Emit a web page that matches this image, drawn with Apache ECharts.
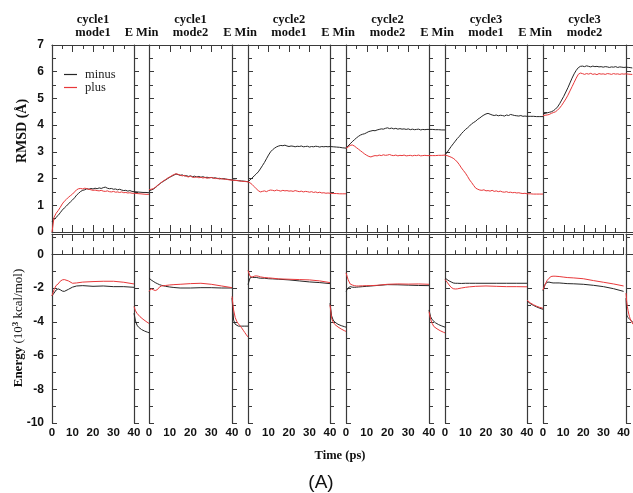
<!DOCTYPE html>
<html>
<head>
<meta charset="utf-8">
<script src="https://cdn.jsdelivr.net/npm/echarts@6/dist/echarts.min.js"></script>
<style>
  html, body { margin: 0; padding: 0; background: #fff; }
  #chart { width: 633px; height: 493px; }
</style>
</head>
<body>
<div id="chart"></div>
<script>
// ---- data ----
// MD time (ps) for the RMSD traces, and a coarser one for the energy traces
const mdTime = [0,1,2,3,4,5,6,7,8,9,10,11,12,13,14,15,16,17,18,19,20,21,22,23,24,25,26,27,28,29,30,31,32,33,34,35,36,37,38,39,40];
const eTime = [0,1,2,3,4,5,6,8,10,12,15,20,25,30,35,40];
// energy minimisation steps (no unit on the figure)
const emStep = [0,1,2,3,4,5,6,7,8,9,10];

const segTitles = ['cycle1\nmode1', 'cycle1\nmode2', 'cycle2\nmode1', 'cycle2\nmode2', 'cycle3\nmode1', 'cycle3\nmode2'];
const emTitle = 'E Min';
const timeTicks = [0, 10, 20, 30, 40];
const rmsdTicks = [0, 1, 2, 3, 4, 5, 6, 7];
const energyTicks = [-10, -8, -6, -4, -2, 0];

// RMSD (Å), one list per MD segment
const rmsdMinusMd = [
  [0.38,0.47,0.55,0.62,0.72,0.82,0.90,0.97,1.05,1.13,1.20,1.28,1.38,1.45,1.52,1.56,1.58,1.62,1.60,1.63,1.61,1.64,1.62,1.65,1.63,1.66,1.68,1.64,1.62,1.63,1.60,1.61,1.58,1.60,1.57,1.55,1.56,1.53,1.55,1.52,1.51],
  [1.54,1.57,1.60,1.66,1.72,1.80,1.85,1.90,1.95,2.00,2.05,2.09,2.13,2.17,2.15,2.12,2.14,2.10,2.11,2.08,2.10,2.07,2.09,2.06,2.08,2.05,2.07,2.04,2.05,2.03,2.04,2.02,2.03,2.00,2.01,1.99,2.00,1.98,1.97,1.96,1.95],
  [1.88,1.95,2.02,2.10,2.17,2.25,2.36,2.48,2.60,2.74,2.88,3.00,3.08,3.14,3.19,3.22,3.24,3.23,3.25,3.22,3.20,3.22,3.21,3.19,3.21,3.20,3.22,3.19,3.20,3.21,3.18,3.20,3.19,3.21,3.20,3.18,3.20,3.19,3.20,3.19,3.20],
  [3.14,3.22,3.30,3.38,3.45,3.52,3.58,3.63,3.66,3.68,3.72,3.76,3.78,3.80,3.79,3.82,3.84,3.86,3.85,3.88,3.90,3.87,3.89,3.86,3.88,3.85,3.87,3.85,3.86,3.84,3.86,3.83,3.85,3.83,3.84,3.85,3.82,3.84,3.83,3.84,3.84],
  [2.88,2.98,3.09,3.20,3.30,3.40,3.50,3.58,3.68,3.76,3.84,3.90,3.97,4.05,4.10,4.15,4.22,4.27,4.33,4.38,4.42,4.44,4.41,4.38,4.36,4.38,4.35,4.37,4.36,4.34,4.38,4.36,4.40,4.38,4.36,4.35,4.34,4.36,4.33,4.34,4.33],
  [4.42,4.44,4.46,4.48,4.50,4.54,4.60,4.68,4.80,4.94,5.08,5.24,5.40,5.58,5.76,5.92,6.05,6.15,6.20,6.21,6.19,6.22,6.20,6.18,6.21,6.19,6.20,6.18,6.19,6.17,6.19,6.18,6.16,6.18,6.17,6.19,6.16,6.18,6.17,6.16,6.17]
];
const rmsdPlusMd = [
  [0.00,0.55,0.70,0.80,0.92,1.05,1.15,1.22,1.30,1.36,1.42,1.50,1.58,1.62,1.63,1.61,1.64,1.62,1.60,1.58,1.56,1.57,1.55,1.54,1.56,1.53,1.52,1.54,1.51,1.50,1.52,1.49,1.50,1.48,1.50,1.47,1.48,1.46,1.47,1.45,1.45],
  [1.58,1.60,1.62,1.67,1.74,1.79,1.86,1.92,1.96,2.02,2.06,2.11,2.15,2.18,2.16,2.13,2.10,2.12,2.08,2.06,2.09,2.05,2.04,2.07,2.03,2.05,2.02,2.04,2.01,2.03,2.04,2.02,2.00,2.01,1.98,2.00,1.97,1.98,1.96,1.95,1.94],
  [1.88,1.84,1.78,1.70,1.62,1.55,1.50,1.52,1.54,1.51,1.55,1.57,1.56,1.54,1.57,1.55,1.53,1.56,1.54,1.55,1.53,1.54,1.52,1.55,1.53,1.51,1.53,1.50,1.52,1.51,1.49,1.51,1.48,1.50,1.47,1.49,1.46,1.47,1.45,1.46,1.45],
  [3.14,3.18,3.24,3.26,3.22,3.16,3.10,3.04,2.98,2.92,2.87,2.83,2.81,2.84,2.86,2.85,2.88,2.86,2.89,2.87,2.88,2.90,2.87,2.86,2.88,2.85,2.87,2.86,2.88,2.85,2.86,2.87,2.85,2.87,2.86,2.88,2.85,2.86,2.87,2.86,2.86],
  [2.88,2.86,2.83,2.80,2.76,2.70,2.62,2.52,2.40,2.30,2.20,2.08,1.95,1.85,1.74,1.64,1.60,1.57,1.56,1.58,1.54,1.55,1.53,1.56,1.52,1.54,1.51,1.53,1.50,1.49,1.51,1.48,1.49,1.47,1.48,1.46,1.47,1.45,1.44,1.45,1.43],
  [4.36,4.37,4.38,4.40,4.44,4.47,4.50,4.56,4.64,4.74,4.86,4.98,5.12,5.28,5.44,5.60,5.76,5.90,5.95,5.93,5.90,5.93,5.91,5.94,5.90,5.92,5.89,5.93,5.91,5.92,5.90,5.93,5.92,5.90,5.93,5.91,5.92,5.90,5.92,5.91,5.92]
];
// RMSD during each E Min stage (the last one runs off the picture)
const rmsdMinusEm = [
  [1.51,1.51,1.50,1.50,1.49,1.49,1.48,1.48,1.48,1.47,1.47],
  [1.95,1.94,1.94,1.93,1.92,1.92,1.91,1.90,1.90,1.89,1.88],
  [3.20,3.20,3.19,3.19,3.18,3.17,3.17,3.16,3.15,3.15,3.14],
  [3.84,3.84,3.84,3.83,3.83,3.83,3.83,3.82,3.82,3.82,3.82],
  [4.33,4.33,4.33,4.33,4.33,4.32,4.32,4.32,4.32,4.32,4.32],
  [6.17,6.17,6.16,6.16,6.16,6.15,6.15,6.15,6.15,6.14,6.14]
];
const rmsdPlusEm = [
  [1.45,1.44,1.44,1.43,1.43,1.42,1.42,1.42,1.41,1.41,1.41],
  [1.94,1.94,1.93,1.92,1.92,1.91,1.90,1.90,1.89,1.89,1.88],
  [1.45,1.45,1.44,1.44,1.44,1.44,1.43,1.43,1.43,1.43,1.43],
  [2.86,2.86,2.86,2.86,2.86,2.87,2.87,2.87,2.87,2.88,2.88],
  [1.43,1.43,1.43,1.43,1.42,1.42,1.42,1.42,1.42,1.42,1.42],
  [5.92,5.92,5.92,5.91,5.91,5.91,5.91,5.90,5.90,5.90,5.90]
];

// Energy (10^3 kcal/mol), one list per MD segment, sampled at eTime
const energyMinusMd = [
  [-2.46,-2.30,-2.12,-2.05,-2.10,-2.18,-2.20,-2.08,-1.95,-1.88,-1.86,-1.90,-1.88,-1.92,-1.92,-1.96],
  [-1.40,-1.52,-1.60,-1.68,-1.74,-1.80,-1.84,-1.90,-1.94,-1.97,-2.00,-2.00,-1.98,-1.98,-2.00,-2.00],
  [-1.80,-1.40,-1.36,-1.38,-1.37,-1.40,-1.42,-1.42,-1.45,-1.46,-1.48,-1.52,-1.58,-1.64,-1.68,-1.74],
  [-2.20,-2.00,-1.92,-1.95,-1.96,-1.95,-1.94,-1.92,-1.90,-1.88,-1.85,-1.80,-1.81,-1.83,-1.85,-1.86],
  [-1.40,-1.50,-1.58,-1.64,-1.70,-1.72,-1.72,-1.73,-1.72,-1.72,-1.72,-1.72,-1.72,-1.72,-1.72,-1.72],
  [-2.16,-1.80,-1.66,-1.65,-1.68,-1.70,-1.70,-1.70,-1.72,-1.74,-1.75,-1.78,-1.84,-1.92,-2.04,-2.20]
];
const energyPlusMd = [
  [-2.46,-2.10,-1.85,-1.76,-1.60,-1.52,-1.50,-1.58,-1.72,-1.70,-1.65,-1.62,-1.60,-1.60,-1.66,-1.76],
  [-2.20,-2.05,-2.10,-2.15,-2.10,-1.95,-1.88,-1.85,-1.82,-1.80,-1.78,-1.74,-1.72,-1.78,-1.88,-1.98],
  [-0.96,-1.30,-1.36,-1.30,-1.28,-1.30,-1.34,-1.38,-1.40,-1.42,-1.46,-1.48,-1.50,-1.52,-1.58,-1.68],
  [-1.10,-1.50,-1.76,-1.82,-1.86,-1.88,-1.88,-1.87,-1.86,-1.86,-1.84,-1.78,-1.76,-1.77,-1.76,-1.78],
  [-1.50,-1.65,-1.82,-1.96,-2.04,-2.06,-2.05,-2.00,-1.96,-1.93,-1.90,-1.88,-1.90,-1.92,-1.92,-1.93],
  [-2.12,-1.80,-1.56,-1.42,-1.32,-1.30,-1.30,-1.32,-1.35,-1.38,-1.40,-1.45,-1.56,-1.66,-1.76,-1.88]
];
const energyMinusEm = [
  [-3.50,-3.95,-4.20,-4.32,-4.40,-4.46,-4.51,-4.55,-4.59,-4.62,-4.65],
  [-2.60,-3.90,-4.15,-4.24,-4.26,-4.26,-4.26,-4.26,-4.26,-4.26,-4.26],
  [-2.90,-3.65,-3.90,-4.02,-4.10,-4.15,-4.19,-4.23,-4.26,-4.29,-4.32],
  [-3.30,-3.70,-3.88,-3.98,-4.06,-4.12,-4.17,-4.21,-4.25,-4.28,-4.32],
  [-2.76,-2.86,-2.92,-2.98,-3.03,-3.08,-3.12,-3.16,-3.20,-3.23,-3.26],
  [-2.60,-3.60,-3.72,-3.76,-3.80,-3.84,-3.88,-3.92,-3.96,-4.00,-4.04]
];
const energyPlusEm = [
  [-3.10,-3.35,-3.50,-3.60,-3.70,-3.78,-3.85,-3.92,-3.98,-4.04,-4.10],
  [-2.50,-3.30,-3.75,-3.98,-4.12,-4.24,-4.36,-4.50,-4.64,-4.78,-4.90],
  [-3.00,-3.80,-4.02,-4.16,-4.25,-4.31,-4.37,-4.43,-4.48,-4.53,-4.57],
  [-3.40,-3.85,-4.10,-4.28,-4.36,-4.42,-4.48,-4.53,-4.58,-4.62,-4.66],
  [-2.72,-2.82,-2.88,-2.94,-2.99,-3.04,-3.08,-3.12,-3.15,-3.18,-3.20],
  [-2.30,-2.80,-3.10,-3.35,-3.55,-3.70,-3.82,-3.92,-4.00,-4.08,-4.15]
];

// ---- layout ----
const mdLeft = [52, 149, 248, 346, 445, 543];
const mdRight = [134, 232, 330, 429, 527, 626];
const lastEmRight = 642; // last E Min panel is cut by the picture edge

const minusColor = '#262626';
const plusColor = '#e8383a';
const axisColor = '#3a3a3a';

const panels = [
  { top: 45, height: 187, min: 0, max: 7, interval: 1, ticks: rmsdTicks,
    minusMd: rmsdMinusMd, plusMd: rmsdPlusMd, minusEm: rmsdMinusEm, plusEm: rmsdPlusEm, time: mdTime },
  { top: 234, height: 189, min: -10, max: 1.2, interval: 2, ticks: energyTicks,
    minusMd: energyMinusMd, plusMd: energyPlusMd, minusEm: energyMinusEm, plusEm: energyPlusEm, time: eTime }
];

// 12 columns: MD segment, then its E Min stage
const cols = [];
for (let k = 0; k < 6; k++) {
  cols.push({ kind: 'md', k: k, left: mdLeft[k], width: mdRight[k] - mdLeft[k] });
  let emEnd = k < 5 ? mdLeft[k + 1] : lastEmRight;
  cols.push({ kind: 'em', k: k, left: mdRight[k], width: emEnd - mdRight[k] });
}

const grid = [], xAxis = [], yAxis = [], series = [];
const lineOf = (c) => ({ show: true, lineStyle: { color: c, width: 1.2 } });

function pairs(xs, ys) {
  return ys.map((v, i) => [xs[i], v]);
}

panels.forEach((p, pi) => {
  cols.forEach((c, ci) => {
    const gi = grid.length;
    grid.push({ left: c.left, top: p.top, width: c.width, height: p.height });

    const isMd = c.kind === 'md';
    const xBase = {
      gridIndex: gi, type: 'value',
      min: isMd ? timeTicks[0] : emStep[0],
      max: isMd ? timeTicks[timeTicks.length - 1] : emStep[emStep.length - 1],
      interval: 10,
      splitLine: { show: false },
      axisLine: lineOf(axisColor),
      axisTick: { show: isMd, inside: true, length: 7, lineStyle: { color: axisColor } },
      minorTick: { show: isMd, splitNumber: 2, length: 4, lineStyle: { color: axisColor } }
    };
    // bottom axis carries the data
    const bottomIdx = xAxis.length;
    xAxis.push(Object.assign({}, xBase, {
      position: 'bottom',
      axisLabel: {
        show: isMd && pi === 1, margin: 4, color: '#111',
        fontFamily: 'Liberation Sans', fontWeight: 'bold', fontSize: 11.5,
        formatter: (v) => timeTicks.includes(v) ? String(v) : ''
      }
    }));
    // top axis is the frame, with the stage titles on the upper panel
    let title = '';
    if (pi === 0) title = isMd ? segTitles[c.k] : (c.k < 5 ? emTitle : '');
    xAxis.push(Object.assign({}, xBase, {
      position: 'top',
      axisLabel: { show: false },
      name: title, nameLocation: 'middle', nameGap: 6,
      nameTextStyle: { fontFamily: 'Liberation Serif', fontWeight: 'bold', fontSize: 12.5,
                       lineHeight: 13, color: '#111' }
    }));

    const yi = yAxis.length;
    yAxis.push({
      gridIndex: gi, type: 'value', min: p.min, max: p.max, interval: p.interval,
      splitLine: { show: false },
      axisLine: lineOf(axisColor),
      axisTick: { show: true, inside: true, length: 5, lineStyle: { color: axisColor } },
      minorTick: { show: true, splitNumber: 2, length: 4, lineStyle: { color: axisColor } },
      axisLabel: {
        show: ci === 0, margin: 8, color: '#111', showMaxLabel: pi === 0,
        fontFamily: 'Liberation Sans', fontWeight: 'bold', fontSize: 12,
        formatter: (v) => p.ticks.includes(v) ? String(v) : ''
      }
    });

    const xs = isMd ? p.time : emStep;
    const minusVals = isMd ? p.minusMd[c.k] : p.minusEm[c.k];
    const plusVals = isMd ? p.plusMd[c.k] : p.plusEm[c.k];
    [['minus', minusVals, minusColor], ['plus', plusVals, plusColor]].forEach(([name, vals, color]) => {
      series.push({
        type: 'line', name: name, xAxisIndex: bottomIdx, yAxisIndex: yi,
        data: pairs(xs, vals), symbol: 'none', silent: true,
        lineStyle: { color: color, width: 1 }, itemStyle: { color: color }
      });
    });
  });
});

const chart = echarts.init(document.getElementById('chart'), null, { renderer: 'canvas' });
chart.setOption({
  animation: false,
  backgroundColor: '#fff',
  grid: grid,
  xAxis: xAxis,
  yAxis: yAxis,
  series: series,
  // plain short line as the key, like the original
  legend: {
    data: ['minus', 'plus'], orient: 'vertical', left: 64, top: 68, padding: 0,
    icon: 'rect', itemWidth: 13, itemHeight: 1.2, itemGap: 0,
    textStyle: { fontFamily: 'Liberation Serif', fontSize: 12.5, color: '#222', padding: [0, 0, 0, 3] }
  },
  graphic: [
    { type: 'text', x: 22, y: 131, rotation: Math.PI / 2,
      style: { text: 'RMSD (Å)', font: 'bold 14px "Liberation Serif"', fill: '#111',
               align: 'center', verticalAlign: 'middle' } },
    { type: 'text', x: 19, y: 328, rotation: Math.PI / 2,
      style: { text: '{b|Energy} (10{s|3} kcal/mol)', fill: '#111',
               font: '13px "Liberation Serif"', align: 'center', verticalAlign: 'middle',
               rich: {
                 b: { fontFamily: 'Liberation Serif', fontWeight: 'bold', fontSize: 13 },
                 s: { fontFamily: 'Liberation Serif', fontWeight: 'bold', fontSize: 9, verticalAlign: 'top', padding: [0, 0, 6, 0] }
               } } },
    { type: 'text', x: 340, y: 456,
      style: { text: 'Time (ps)', font: 'bold 12.5px "Liberation Serif"', fill: '#111',
               align: 'center', verticalAlign: 'middle' } },
    { type: 'text', x: 321, y: 483,
      style: { text: '(A)', font: '19px "Liberation Sans"', fill: '#111',
               align: 'center', verticalAlign: 'middle' } }
  ]
});
</script>
</body>
</html>
